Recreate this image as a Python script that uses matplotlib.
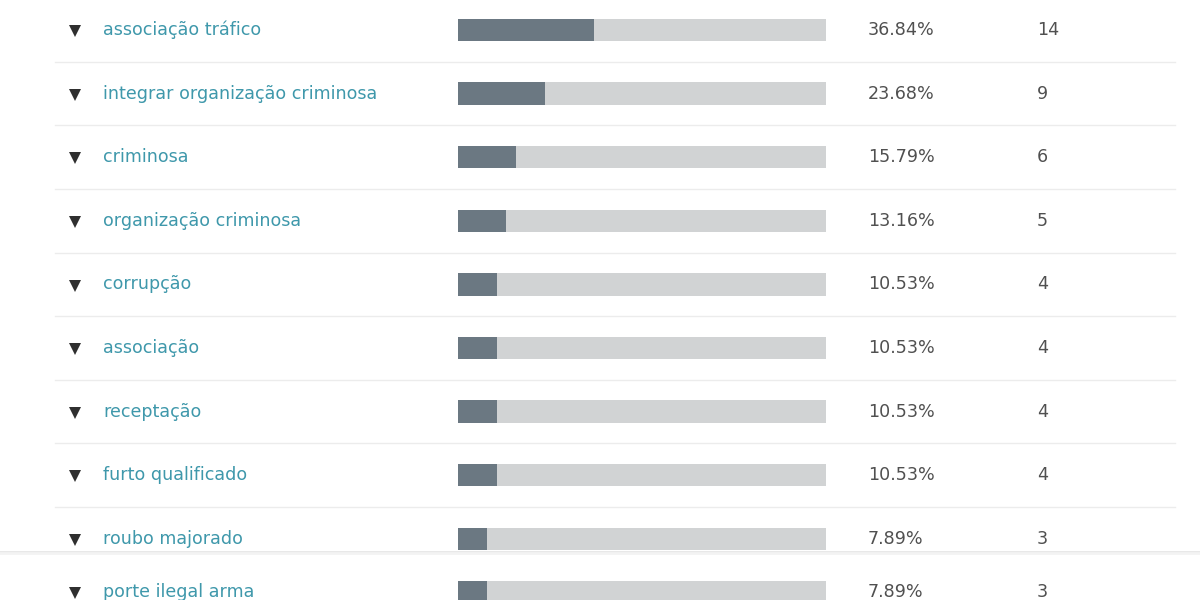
import matplotlib.pyplot as plt
import numpy as np

plt.rcParams['font.family'] = ['DejaVu Sans']

# answers, share of respondents (%) and counts
labels = ['associação tráfico', 'integrar organização criminosa', 'criminosa',
          'organização criminosa', 'corrupção', 'associação', 'receptação',
          'furto qualificado', 'roubo majorado', 'porte ilegal arma']
pcts = [36.84, 23.68, 15.79, 13.16, 10.53, 10.53, 10.53, 10.53, 7.89, 7.89]
counts = [14, 9, 6, 5, 4, 4, 4, 4, 3, 3]

label_col = '#3f98ab'
num_col = '#505050'
bar_col = '#6b7882'
track_col = '#d1d3d4'

W, H = 1200, 600
pitch = 63.6          # px per row
top = 30 / pitch      # first row centre, in row units

fig = plt.figure(figsize=(12, 6), dpi=100)
ax = fig.add_axes([0, 0, 1, 1])
ax.set_xlim(0, W)
ax.set_ylim(-top + H / pitch, -top)   # rows run downwards
ax.axis('off')

n = len(labels)
y = np.arange(n, dtype=float)
y[-1] -= 0.16   # the screenshot was stitched just above the last row

# row separators
for i in range(n - 2):
    ax.plot([55, 1175], [i + 0.5, i + 0.5], color='#ececec', lw=1, zorder=0)
ax.plot([0, W], [8.2, 8.2], color='#e4e4e4', lw=1.2, zorder=0)
ax.plot([0, W], [8.23, 8.23], color='#f3f3f3', lw=2, zorder=0)

ax.plot(np.full(n, 75), y + 0.02, 'v', color='#2f2f2f', ms=9, mew=0)
for yi, lab, p, c in zip(y, labels, pcts, counts):
    ax.text(103, yi, lab, color=label_col, fontsize=12.6, va='center', ha='left')
    ax.text(868, yi, f'{p:.2f}%', color=num_col, fontsize=12.6, va='center', ha='left')
    ax.text(1037, yi, str(c), color=num_col, fontsize=12.6, va='center', ha='left')

# bars, on their own 0-100 scale
bx = fig.add_axes([458 / W, 0, 368 / W, 1], sharey=ax)
bx.set_xlim(0, 100)
bx.axis('off')
bx.barh(y, 100, height=0.35, color=track_col, zorder=1)
bx.barh(y, pcts, height=0.35, color=bar_col, zorder=2)

fig.savefig('out.png', dpi=100)
